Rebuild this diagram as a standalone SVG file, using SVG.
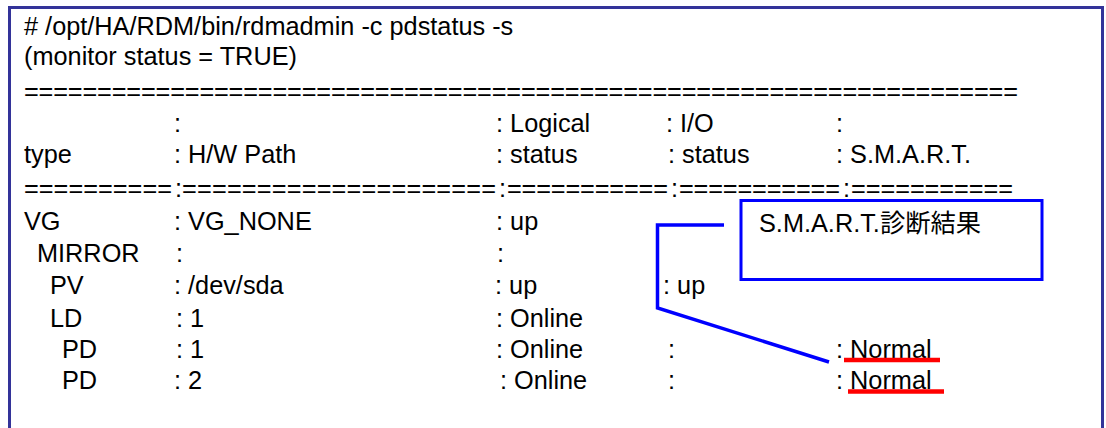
<svg xmlns="http://www.w3.org/2000/svg" width="1106" height="428" viewBox="0 0 1106 428">
<style>
text{font-family:"Liberation Sans","Noto Sans CJK JP",Arial,sans-serif;font-size:25.3px;fill:#000;white-space:pre}
.frame{fill:#fff;stroke:#333399;stroke-width:3}
.callout{fill:#fff;stroke:#0000ff;stroke-width:3}
.conn{fill:none;stroke:#0000ff;stroke-width:3.5}
.ul{stroke:#ff0000;stroke-width:4.5}
</style>
<rect width="1106" height="428" fill="#fff"/>
<g id="frame">
<rect class="frame" x="9.5" y="7.5" width="1093" height="440"/>
</g>
<g id="console">
<text x="24" y="35"># /opt/HA/RDM/bin/rdmadmin -c pdstatus -s</text>
<text x="24" y="65">(monitor status = TRUE)</text>
<text x="24" y="100" textLength="994" lengthAdjust="spacing">====================================================================</text>
<text y="132"><tspan x="174">:</tspan><tspan x="496">: Logical</tspan><tspan x="666">: I/O</tspan><tspan x="836">:</tspan></text>
<text y="163"><tspan x="24">type</tspan><tspan x="174">: H/W Path</tspan><tspan x="496">: status</tspan><tspan x="668">: status</tspan><tspan x="836">: S.M.A.R.T.</tspan></text>
<text y="197"><tspan x="24" textLength="148" lengthAdjust="spacing">==========</tspan><tspan x="175">:</tspan><tspan x="182" textLength="314" lengthAdjust="spacing">=====================</tspan><tspan x="499">:</tspan><tspan x="507" textLength="161" lengthAdjust="spacing">===========</tspan><tspan x="671">:</tspan><tspan x="679" textLength="161" lengthAdjust="spacing">===========</tspan><tspan x="843">:</tspan><tspan x="851" textLength="162" lengthAdjust="spacing">===========</tspan></text>
<text y="230"><tspan x="24">VG</tspan><tspan x="174">: VG_NONE</tspan><tspan x="496">: up</tspan></text>
<text y="262"><tspan x="37">MIRROR</tspan><tspan x="176">:</tspan><tspan x="497">:</tspan></text>
<text y="294"><tspan x="50">PV</tspan><tspan x="174">: /dev/sda</tspan><tspan x="495">: up</tspan><tspan x="663">: up</tspan></text>
<text y="327"><tspan x="50">LD</tspan><tspan x="176">: 1</tspan><tspan x="496">: Online</tspan></text>
<text y="358"><tspan x="62">PD</tspan><tspan x="176">: 1</tspan><tspan x="496">: Online</tspan><tspan x="668">:</tspan><tspan x="836">: Normal</tspan></text>
<text y="389"><tspan x="62">PD</tspan><tspan x="174">: 2</tspan><tspan x="500">: Online</tspan><tspan x="668">:</tspan><tspan x="836">: Normal</tspan></text>
</g>
<g id="underlines">
<line class="ul" x1="844" y1="360" x2="940" y2="360"/>
<line class="ul" x1="848" y1="391.5" x2="944" y2="391.5"/>
</g>
<g id="connectors">
<polyline class="conn" points="724,225 657.5,225 657.5,308 829,362"/>
</g>
<g id="callout">
<rect class="callout" x="741" y="200.5" width="301" height="79"/>
<text x="759" y="232">S.M.A.R.T.診断結果</text>
</g>
</svg>
